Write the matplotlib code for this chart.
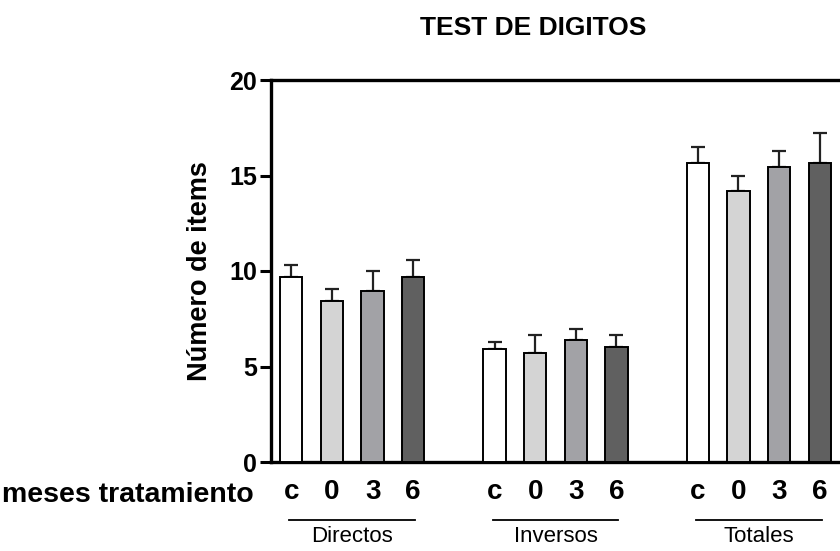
import numpy as np
import matplotlib
matplotlib.use("Agg")
import matplotlib.pyplot as plt
import matplotlib.transforms as mtransforms

plt.rcParams['font.family'] = ['Liberation Sans', 'DejaVu Sans']

#-------------------------------
# TEST DE DIGITOS - bar chart
#-------------------------------
groups = ["Directos", "Inversos", "Totales"]
conditions = ["c", "0", "3", "6"]
colors = ["#ffffff", "#d4d4d4", "#a2a2a6", "#606060"]

# mean value per group (rows) and condition (cols)
means = [[9.7, 8.45, 8.95, 9.7],
         [5.9, 5.7, 6.4, 6.0],
         [15.65, 14.2, 15.45, 15.65]]
# upper error (SEM)
errors = [[0.6, 0.6, 1.05, 0.85],
          [0.4, 0.95, 0.55, 0.65],
          [0.85, 0.75, 0.85, 1.6]]

W, H = 840, 551
fig = plt.figure(figsize=(W / 100, H / 100), dpi=100)
ax = fig.add_axes([271 / W, 1 - 462 / H, 1 - 271 / W, (462 - 80) / H])

n_cond = len(conditions)
positions = []
for g in range(len(groups)):
	for c in range(n_cond):
		x = g * (n_cond + 1) + c
		positions.append(x)
		ax.bar(x, means[g][c], width=0.55, color=colors[c], edgecolor="black",
			   linewidth=1.4, zorder=3)
		ax.errorbar(x, means[g][c], yerr=[[0], [errors[g][c]]], fmt="none",
					ecolor="#222222", elinewidth=1.6, capsize=5, capthick=1.6, zorder=2)

ax.set_xlim(-0.5, positions[-1] + 0.5)
ax.set_ylim(0, 20)
ax.set_yticks([0, 5, 10, 15, 20])
ax.set_yticklabels(["0", "5", "10", "15", "20"], fontsize=18, fontweight="bold")
ax.tick_params(axis="y", length=8, width=2.2, pad=2, direction="out")

ax.set_xticks(positions)
ax.set_xticklabels(conditions * len(groups), fontsize=20, fontweight="bold")
ax.tick_params(axis="x", length=0, pad=12)

for side in ["left", "bottom", "top"]:
	ax.spines[side].set_linewidth(2.4)
ax.spines["right"].set_visible(False)

ax.set_ylabel("Número de items", fontsize=19.5, fontweight="bold", labelpad=12)

fig.text(533 / W, 1 - 28 / H, "TEST DE DIGITOS", fontsize=19, fontweight="bold",
		 ha="center", va="center")
fig.text(2 / W, 1 - 495 / H, "meses tratamiento", fontsize=20.5, fontweight="bold",
		 ha="left", va="center")

# group underline + group name
trans = mtransforms.blended_transform_factory(ax.transData, fig.transFigure)
for g, name in enumerate(groups):
	center = g * (n_cond + 1) + (n_cond - 1) / 2
	ax.plot([center - 1.55, center + 1.55], [1 - 520 / H] * 2, color="black",
			linewidth=1.3, transform=trans, clip_on=False)
	ax.text(center, 1 - 537 / H, name, fontsize=16, ha="center", va="center",
			transform=trans)

fig.savefig("out.png", dpi=100)
